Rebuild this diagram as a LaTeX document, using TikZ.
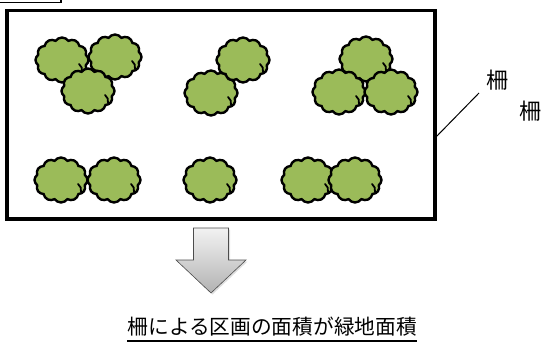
\documentclass[tikz,border=0pt]{standalone}
\usepackage{fontspec}
\newfontfamily\jpfont{Noto Sans CJK JP}
\usetikzlibrary{shapes.symbols,shadows}
\definecolor{bushgreen}{HTML}{9BBB59}
\tikzset{
  bush/.style={cloud, cloud puffs=12, cloud puff arc=110, aspect=1.15,
    minimum width=53pt, minimum height=45pt, inner sep=0pt,
    fill=bushgreen, draw=black, line width=2.4pt},
  hook/.style={draw=black, line width=1.8pt, line cap=round},
  lbl/.style={font=\jpfont\fontsize{22}{22}\selectfont, inner sep=0pt},
  caption/.style={font=\jpfont\fontsize{20.7}{21}\selectfont, inner sep=0pt}
}
\newcommand{\bushat}[3]{%
  \node[bush] (#1) at (#2,#3) {};
  \draw[hook] ([shift={(17,4)}]#1.center) to[bend left=30] ([shift={(20,12)}]#1.center);
}
\begin{document}
\begin{tikzpicture}[x=1pt,y=-1pt]
\useasboundingbox (0,0) rectangle (543,342);
% cropped box top-left
\draw[line width=1.2pt] (0,2.5) -- (61,2.5) -- (61,-3);
% enclosure
\draw[line width=3.5pt] (7,10.5) rectangle (435,219);
\coordinate (fence) at (436,137);
\node[lbl] (l1) at (497,80) {柵};
\node[lbl] (l2) at (530,111) {柵};
\coordinate (lend) at (479,93);
\draw[line width=1pt] (fence) -- (lend);
% group 1
\bushat{a1}{62}{60}
\bushat{a2}{115}{57}
\bushat{a3}{88}{91}
% group 2
\bushat{b2}{211}{93}
\bushat{b1}{243}{60}
% group 3
\bushat{c1}{366}{59}
\bushat{c2}{339}{92}
\bushat{c3}{391}{92}
% bottom row
\bushat{d1}{61}{180}
\bushat{d2}{114}{180}
\bushat{d3}{210}{180}
\bushat{d4}{308}{180}
\bushat{d5}{355}{180}
% arrow
\path[draw=black!70, line width=0.6pt, top color=gray!10, bottom color=gray!60,
  drop shadow={opacity=0.25, shadow xshift=1.5pt, shadow yshift=-1.5pt}]
  (193.5,228) -- (228.5,228) -- (228.5,260) -- (246,260) -- (211,293)
  -- (176,260) -- (193.5,260) -- cycle;
\node[caption, anchor=base east] (t) at (417,334) {柵による区画の面積が緑地面積};
\draw[line width=1.2pt] ([yshift=-7pt]t.base west) -- ([yshift=-7pt]t.base east);
\end{tikzpicture}
\end{document}
